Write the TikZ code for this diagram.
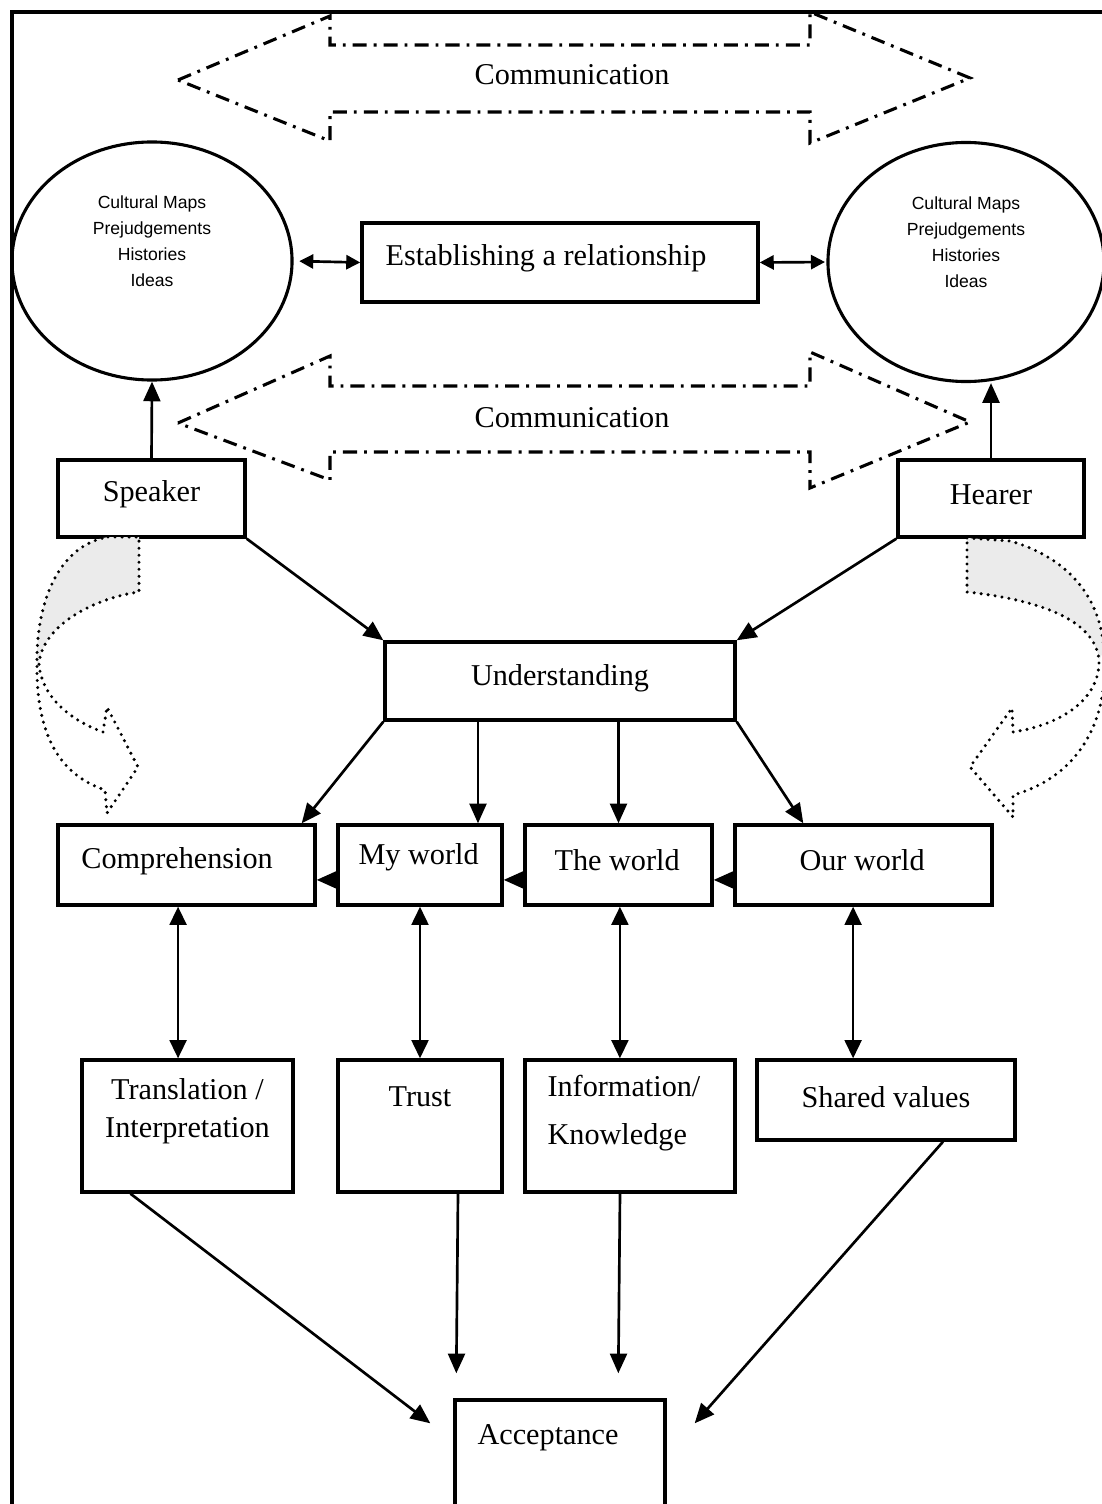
\documentclass[tikz,border=0pt]{standalone}
\usepackage{fontspec}
\setmainfont{Liberation Serif}
\newfontfamily\circsans{Liberation Sans}
\usetikzlibrary{arrows.meta,shapes.geometric,fit,calc}
\begin{document}
\begin{tikzpicture}[x=0.025cm,y=-0.025cm,
  box/.style={draw, line width=2.4pt, inner sep=0pt},
  lbl/.style={font=\fontsize{21.5}{26}\selectfont, inner sep=0pt, align=center},
  sm/.style={font=\circsans\fontsize{12.5}{18.5}\selectfont, inner sep=0pt, align=center},
  circ/.style={ellipse, draw, line width=2.2pt, inner sep=0pt},
  arr/.style={line width=1.9pt, -{Triangle[length=14pt,width=12pt]}},
  dbl/.style={line width=1.9pt, {Triangle[length=13pt,width=12pt]}-{Triangle[length=13pt,width=12pt]}},
  sdbl/.style={line width=1.9pt, {Triangle[length=10pt,width=10pt]}-{Triangle[length=10pt,width=10pt]}},
  comm/.style={line width=2.2pt, dash pattern=on 10pt off 5pt on 2pt off 5pt},
  dotline/.style={line width=2.4pt, line cap=round, dash pattern=on 0pt off 5pt},
  shade/.style={fill=black!8}
]
\useasboundingbox (0,0) rectangle (1102,1504);
\fill[white] (0,0) rectangle (1102,1504);
\clip (0,0) rectangle (1102,1504);

% frame
\draw[line width=2.6pt] (12,1520) -- (12,12) -- (1120,12);

% communication arrows
\draw[comm] (178,80) -- (330,16) -- (330,45) -- (810,45) -- (810,12) -- (970,78)
  -- (810,143) -- (810,112) -- (330,112) -- (330,141) -- cycle;
\node[lbl] (comm1) at (572,75) {Communication};
\draw[comm] (178,423) -- (330,356) -- (330,386) -- (810,386) -- (810,352) -- (970,422)
  -- (810,488) -- (810,452) -- (330,452) -- (330,480) -- cycle;
\node[lbl] (comm2) at (572,418) {Communication};

% circles
\node[circ, minimum width=7cm, minimum height=5.95cm,
  label={[sm, yshift=13.8pt]center:Cultural Maps\\Prejudgements\\Histories\\Ideas}] (cL) at (152,261) {};
\node[circ, minimum width=6.9cm, minimum height=5.975cm,
  label={[sm, yshift=14pt]center:Cultural Maps\\Prejudgements\\Histories\\Ideas}] (cR) at (966,262) {};

% boxes
\node[box, fit={(362,223) (758,302)}, label={[lbl,xshift=-10pt,yshift=3pt]center:Establishing a relationship}] (est) {};
\node[box, fit={(58,460) (245,537)}, label={[lbl,yshift=3pt]center:Speaker}] (speaker) {};
\node[box, fit={(898,460) (1084,537)}, label={[lbl,yshift=3pt]center:Hearer}] (hearer) {};
\node[box, fit={(385,642) (735,720)}, label={[lbl,yshift=2pt]center:Understanding}] (under) {};
\node[box, fit={(58,825) (315,905)}, label={[lbl,xshift=-6.7pt,yshift=3pt]center:Comprehension}] (comp) {};
\node[box, fit={(338,825) (502,905)}, label={[lbl,xshift=-1pt,yshift=5.7pt]center:My world}] (my) {};
\node[box, fit={(525,825) (712,905)}, label={[lbl,xshift=-1pt,yshift=3.5pt]center:The world}] (the) {};
\node[box, fit={(735,825) (992,905)}, label={[lbl,xshift=-1pt,yshift=3.5pt]center:Our world}] (our) {};
\node[box, fit={(82,1060) (293,1192)}, label={[lbl,font=\fontsize{21.5}{27}\selectfont,yshift=10.6pt]center:Translation /\\Interpretation}] (trans) {};
\node[box, fit={(338,1060) (502,1192)}, label={[lbl,yshift=20.5pt]center:Trust}] (trust) {};
\node[box, fit={(525,1060) (735,1192)}, label={[lbl,font=\fontsize{21.5}{34}\selectfont,align=left,xshift=-4.3pt,yshift=9pt]center:Information/\\Knowledge}] (info) {};
\node[box, fit={(757,1060) (1015,1140)}, label={[lbl,yshift=2pt]center:Shared values}] (shared) {};
\node[box, fit={(455,1400) (665,1515)}, label={[lbl,xshift=-8.5pt,yshift=14pt]center:Acceptance}] (accept) {};

% top connectors
\draw[sdbl, shorten <=4pt] (cL.east) -- (est.west);
\draw[sdbl, shorten >=1pt] (est.east) -- (cR.west);
\draw[arr] (speaker.north) -- (cL.south);
\draw[arr] (hearer.north) -- (hearer.north |- cR.south);
\draw[arr] (speaker.south east) -- (under.north west);
\draw[arr] (hearer.south west) -- (under.north east);

% understanding to row
\coordinate (uc) at ($(comp.north east)+(-15,0)$);
\coordinate (um) at ($(my.north)+(58,0)$);
\coordinate (uo) at ($(our.north west)+(70,0)$);
\draw[arr] (under.south west) -- (uc);
\draw[arr] (um |- under.south) -- (um);
\draw[arr] (the.north |- under.south) -- (the.north);
\draw[arr] (under.south east) -- (uo);

% between row boxes
\draw[arr] ([yshift=-10.6pt]my.west) -- ([yshift=-10.6pt]comp.east);
\draw[arr] ([yshift=-10.6pt]the.west) -- ([yshift=-10.6pt]my.east);
\draw[arr] ([yshift=-10.6pt]our.west) -- ([yshift=-10.6pt]the.east);

% vertical double arrows
\draw[dbl] ([xshift=-6pt]comp.south) -- ([xshift=-6pt]comp.south |- trans.north);
\draw[dbl] (my.south) -- (my.south |- trust.north);
\draw[dbl] ([xshift=1pt]the.south) -- ([xshift=1pt]the.south |- info.north);
\draw[dbl] ([xshift=-7.4pt]our.south) -- ([xshift=-7.4pt]our.south |- shared.north);

% to acceptance
\coordinate (aL) at ($(accept.north west)+(-23,25)$);
\coordinate (aT) at ($(accept.north west)+(3,-25)$);
\coordinate (aI) at ($(accept.north west)+(165,-25)$);
\coordinate (aR) at ($(accept.north east)+(28,25)$);
\draw[arr] ($(trans.south)+(-57,0)$) -- (aL);
\draw[arr] ($(trust.south)+(38,0)$) -- (aT);
\draw[arr] ($(info.south)+(-10,0)$) -- (aI);
\draw[arr] ($(shared.south)+(57,0)$) -- (aR);

% curved dotted arrows - left
\fill[shade] (108,537) -- (139,537) -- (139,592) .. controls (95,598) and (42,625) .. (39,664)
  -- (37,664) .. controls (36,600) and (60,545) .. (108,537) -- cycle;
\draw[dotline] (108,537) -- (139,537) -- (139,592)
  .. controls (95,598) and (42,625) .. (39,664)
  .. controls (42,700) and (75,722) .. (103,732)
  -- (107,707) -- (138,767) -- (107,813) -- (105,790)
  .. controls (60,775) and (36,735) .. (37,664)
  .. controls (36,600) and (60,545) .. (108,537);

% curved dotted arrows - right
\fill[shade] (967,538) -- (1010,541) .. controls (1060,555) and (1100,590) .. (1104,650)
  -- (1099,660) .. controls (1095,620) and (1040,600) .. (967,592) -- cycle;
\draw[dotline] (967,538) -- (1010,541)
  .. controls (1060,555) and (1100,590) .. (1104,650)
  .. controls (1110,725) and (1075,778) .. (1013,795)
  -- (1013,817) -- (970,767) -- (1012,708) -- (1013,732)
  .. controls (1060,725) and (1100,700) .. (1099,660)
  .. controls (1095,620) and (1040,600) .. (967,592) -- (967,538);
\end{tikzpicture}
\end{document}
